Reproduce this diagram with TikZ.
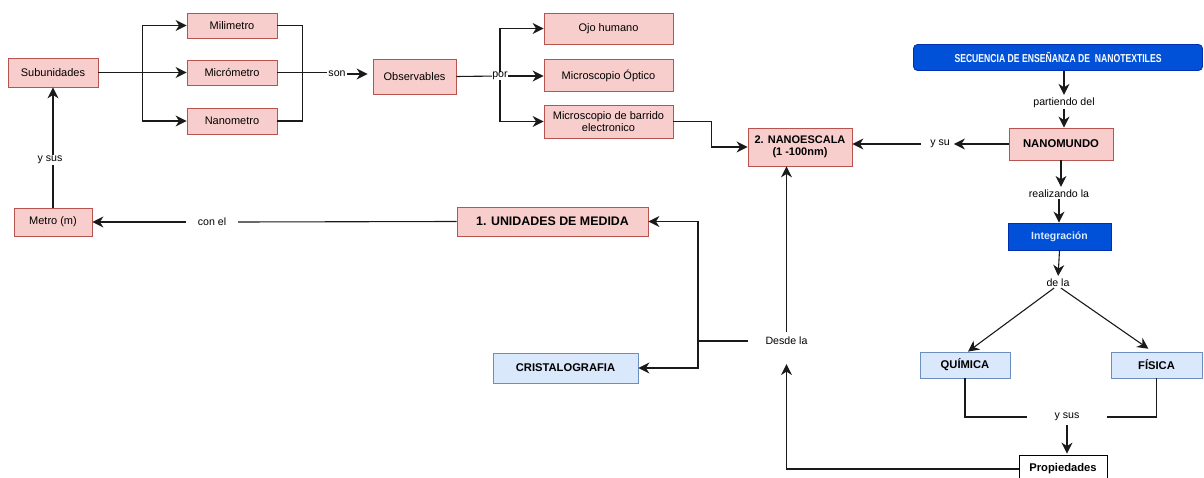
\documentclass[tikz,border=0pt]{standalone}
\usepackage{fontspec}
\setmainfont{Liberation Sans}
\newfontfamily\condfont[FakeStretch=0.75]{Liberation Sans}
\usetikzlibrary{arrows.meta}
\definecolor{pinkf}{HTML}{F8CECC}
\definecolor{pinkd}{HTML}{B85450}
\definecolor{bluef}{HTML}{DAE8FC}
\definecolor{blued}{HTML}{6C8EBF}
\definecolor{dblue}{HTML}{0050D8}
\definecolor{dblued}{HTML}{0030B0}
\definecolor{ltxt}{HTML}{D8ECFF}
\definecolor{lnc}{HTML}{1A1A1A}
\begin{document}
\begin{tikzpicture}[x=1pt,y=-1pt,
  base/.style={inner sep=0pt, align=center, line width=0.8pt, font=\fontsize{11}{12.5}\selectfont},
  pinkbox/.style={base, draw=pinkd, fill=pinkf},
  pinkbold/.style={pinkbox, font=\fontsize{11.3}{13}\selectfont\bfseries},
  bluebox/.style={base, draw=blued, fill=bluef, font=\fontsize{11.2}{13}\selectfont\bfseries},
  darkbox/.style={base, draw=dblued, fill=dblue, font=\bfseries},
  whitebox/.style={base, draw=black, fill=white, font=\fontsize{11.2}{13}\selectfont\bfseries},
  lbl/.style={inner sep=1pt, fill=white, font=\fontsize{10.6}{12}\selectfont},
  con/.style={line width=1.1pt, draw=lnc},
  arr/.style={con, -{Stealth[length=11pt, width=11pt, inset=3.5pt]}}
]
\useasboundingbox[fill=white] (0,0) rectangle (1204,478);

% nodes
\node[pinkbox, minimum width=90, minimum height=29] (sub) at (53,72.5) {Subunidades};
\node[pinkbox, minimum width=90, minimum height=25] (mili) at (232,25.5) {Milimetro};
\node[pinkbox, minimum width=90, minimum height=25] (micro) at (232,72.5) {Micrómetro};
\node[pinkbox, minimum width=90, minimum height=26] (nano) at (232,121) {Nanometro};
\node[lbl, fill=none] (son) at (337,74) {son};
\node[pinkbox, minimum width=83, minimum height=35] (obs) at (414.5,76.5) {Observables};
\node[pinkbox, minimum width=129, minimum height=31] (ojo) at (608.5,28.5) {Ojo humano};
\node[pinkbox, minimum width=129, minimum height=32] (mopt) at (608.5,75.5) {Microscopio Óptico};
\node[pinkbox, minimum width=129, minimum height=33, font=\fontsize{11}{11.5}\selectfont] (mbar) at (608.5,121.5) {Microscopio de barrido\\electronico};
\node[pinkbold, minimum width=104, minimum height=38, font=\fontsize{11}{12}\selectfont\bfseries] (nesc) at (800,147) {2. NANOESCALA\\(1 -100nm)};
\node[darkbox, rounded corners=4pt, minimum width=289, minimum height=26, text=white, font=\condfont\fontsize{11.5}{12}\selectfont\bfseries] (secu) at (1058,57.5) {SECUENCIA DE ENSEÑANZA DE\ \ NANOTEXTILES};
\node[lbl] (part) at (1064,103) {partiendo del};
\node[pinkbold, minimum width=104, minimum height=32] (nmundo) at (1061,144) {NANOMUNDO};
\node[lbl] (ysu) at (940,144) {y su};
\node[lbl] (real) at (1059,194) {realizando la};
\node[darkbox, minimum width=103, minimum height=27, text=ltxt, font=\fontsize{10.5}{12}\selectfont\bfseries] (integ) at (1059.5,236.5) {Integración};
\node[lbl] (dela) at (1058,283) {de la};
\node[bluebox, minimum width=90, minimum height=26] (quim) at (965,365) {QUÍMICA};
\node[bluebox, minimum width=91, minimum height=26] (fis) at (1156.5,365) {FÍSICA};
\node[lbl, minimum width=79] (ysus2) at (1067,417) {y sus};
\node[whitebox, minimum width=88, minimum height=28] (prop) at (1063,469) {Propiedades};
\node[lbl, minimum width=76] (desde) at (786.5,341) {Desde la};
\node[pinkbold, minimum width=191, minimum height=29, font=\fontsize{12.4}{14}\selectfont\bfseries] (unid) at (552.5,221.5) {1. UNIDADES DE MEDIDA};
\node[bluebox, minimum width=145, minimum height=30] (crist) at (565.5,368) {CRISTALOGRAFIA};
\node[pinkbox, minimum width=78, minimum height=28] (metro) at (53,222) {Metro (m)};
\node[lbl, minimum width=52] (conel) at (212,222) {con el};
\coordinate (pj) at (500,76);
\coordinate (jx) at (698,341);

% connectors: Subunidades to subunits
\draw[arr] (sub.east) -- ++(44,0) |- (mili.west);
\draw[arr] (sub.east) -- (micro.west);
\draw[arr] (sub.east) -- ++(44,0) |- (nano.west);
% bracket to son
\draw[con] (mili.east) -- ++(25,0) |- (nano.east);
\draw[con] (micro.east) -- (micro.east -| son.west);
\draw[arr, shorten >=5pt] (son.east) -- (son.east -| obs.west);
% Observables por
\draw[con] (obs.east) -- (pj);
\draw[arr] (pj) |- (ojo.west);
\draw[arr] (pj) |- (mbar.west);
\draw[arr] (pj) -- (pj -| mopt.west);
\node[lbl, inner sep=0.3pt] (por) at (pj) {por};
% barrido to nanoescala
\draw[arr] (mbar.east) -- ++(38,0) |- (nesc.west);
% right column
\draw[arr, shorten >=2pt] (secu.south -| part) -- (part.north);
\draw[arr] (part.south) -- (part.south |- nmundo.north);
\draw[arr, shorten >=3pt] (nmundo.west) -- (ysu.east);
\draw[arr, shorten <=8pt] (ysu.west) -- (ysu.west -| nesc.east);
\draw[arr, shorten >=2pt] (nmundo.south) -- (nmundo.south |- real.north);
\draw[arr] (real.south) -- (real.south |- integ.north);
\draw[arr, shorten >=2pt] (integ.south) -- (dela.north);
\draw[arr] ([xshift=-4pt]dela.south) -- ([xshift=3pt]quim.north);
\draw[arr, shorten >=5pt] ([xshift=3pt]dela.south) -- ([xshift=-4pt]fis.north);
\draw[con] (quim.south) |- (ysus2.west);
\draw[con] (ysus2.east) -| (fis.south);
\draw[arr, shorten <=3pt, shorten >=1pt] (ysus2.south) -- (ysus2.south |- prop.north);
\draw[arr, shorten >=18pt] (prop.west) -| (desde.south);
\draw[arr, shorten <=4pt] (desde.north) -- (desde.north |- nesc.south);
\draw[con] (desde.west) -- (jx);
\draw[arr] (jx) |- (unid.east);
\draw[arr] (jx) |- (crist.east);
% left bottom
\draw[con] (unid.west) -- (conel.east);
\draw[arr] (conel.west) -- (metro.east);
\draw[arr] (metro.north) -- (sub.south);
\node[lbl] (ysus1) at (50,160) {y sus};
\end{tikzpicture}
\end{document}
